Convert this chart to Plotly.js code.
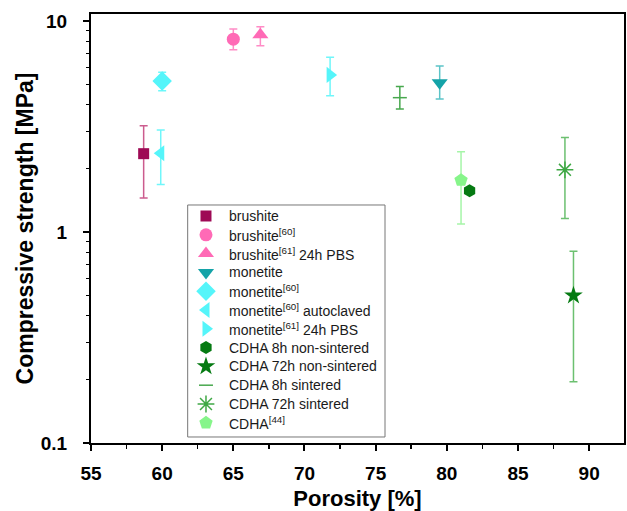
<!DOCTYPE html>
<html>
<head>
<meta charset="utf-8">
<script src="https://cdn.plot.ly/plotly-3.0.1.min.js"></script>
<style>html,body{margin:0;padding:0;background:#fff;}#chart{width:627px;height:511px;}</style>
</head>
<body>
<div id="chart"></div>
<script>
// Series names (legend order)
const seriesNames = [
  "brushite",
  "brushite<sup>[60]</sup>",
  "brushite<sup>[61]</sup> 24h PBS",
  "monetite",
  "monetite<sup>[60]</sup>",
  "monetite<sup>[60]</sup> autoclaved",
  "monetite<sup>[61]</sup> 24h PBS",
  "CDHA 8h non-sintered",
  "CDHA 72h non-sintered",
  "CDHA 8h sintered",
  "CDHA 72h sintered",
  "CDHA<sup>[44]</sup>"
];
// Porosity [%]
const porosity = [58.7, 65.0, 66.9, 79.5, 60.0, 59.9, 71.8, 81.6, 88.9, 76.7, 88.3, 81.0];
// Compressive strength [MPa]
const strength = [2.35, 8.2, 8.6, 5.1, 5.2, 2.36, 5.55, 1.57, 0.50, 4.33, 1.97, 1.76];
// Error bar upper / lower limits [MPa]
const errUpper = [3.19, 9.15, 9.4, 6.12, 5.72, 3.04, 6.73, null, 0.81, 4.89, 2.80, 2.40];
const errLower = [1.45, 7.3, 7.64, 4.27, 4.67, 1.68, 4.42, null, 0.195, 3.83, 1.16, 1.09];

const yTickVals = [0.1, 1, 10];
const yTickText = ["0.1", "1", "10"];
const xTickVals = [55, 60, 65, 70, 75, 80, 85, 90];

const styles = [
  {symbol: "square", color: "#9E0A55", size: 11, ecolor: "#CC5C8E"},
  {symbol: "circle", color: "#FF6AB6", size: 13, ecolor: "#FF8CC6"},
  {symbol: "triangle-up", color: "#FF6AB6", size: 14, ecolor: "#FF8CC6"},
  {symbol: "triangle-down", color: "#14A3A8", size: 14, ecolor: "#5CC4C8"},
  {symbol: "diamond", color: "#55F5FA", size: 15, ecolor: "#6EF8FA"},
  {symbol: "triangle-left", color: "#55F5FA", size: 14, ecolor: "#70F6FA"},
  {symbol: "triangle-right", color: "#55F5FA", size: 14, ecolor: "#70F6FA"},
  {symbol: "hexagon", color: "#057A12", size: 13, ecolor: "#057A12"},
  {symbol: "star", color: "#057A12", size: 14, ecolor: "#6CC070"},
  {symbol: "line-ew", color: "#48A84E", size: 10, ecolor: "#48A84E", line: true},
  {symbol: "asterisk-open", color: "#3FA845", size: 14, ecolor: "#6CC070", line: true},
  {symbol: "pentagon", color: "#86F58A", size: 14, ecolor: "#A6F5A8"}
];

function markerOf(s) {
  return {symbol: s.symbol, color: s.color, size: s.size,
          line: s.line ? {color: s.color, width: 1.5} : {width: 0}};
}

const traces = seriesNames.map((name, i) => {
  const s = styles[i];
  const t = {
    type: "scatter", mode: "markers", name: name,
    x: [porosity[i]], y: [strength[i]],
    marker: markerOf(s), showlegend: false, hoverinfo: "skip"
  };
  if (errUpper[i] !== null) {
    t.error_y = {type: "data", symmetric: false,
      array: [errUpper[i] - strength[i]], arrayminus: [strength[i] - errLower[i]],
      color: s.ecolor, thickness: 1.5, width: 4};
  }
  return t;
});

// Legend drawn in its own small overlay axes (x2/y2), units: pixels inside the box
const legRowTop = 11, legRowStep = 18.8, legMarkX = 18.3, legTextX = 39;
const annotations = [];
seriesNames.forEach((name, i) => {
  const ry = legRowTop + legRowStep * i;
  traces.push({
    type: "scatter", mode: "markers", x: [legMarkX], y: [ry],
    xaxis: "x2", yaxis: "y2", marker: markerOf(styles[i]),
    showlegend: false, hoverinfo: "skip", cliponaxis: false
  });
  annotations.push({
    xref: "x2", yref: "y2", x: legTextX, y: ry, text: name,
    showarrow: false, xanchor: "left", yanchor: "middle",
    font: {size: 14, color: "#1a1a1a", family: "Liberation Sans, Arial, sans-serif"}
  });
});

const fontFam = "Liberation Sans, Arial, sans-serif";
const layout = {
  width: 627, height: 511,
  margin: {l: 91, r: 3, t: 14, b: 68},
  paper_bgcolor: "#ffffff",
  plot_bgcolor: "rgba(0,0,0,0)",
  showlegend: false,
  font: {family: fontFam, color: "#000"},
  xaxis: {
    domain: [0, 1],
    range: [55, 92.45],
    tickvals: xTickVals,
    ticks: "outside", ticklen: 6, tickwidth: 2, tickcolor: "#000",
    ticklabelstandoff: 6,
    minor: {dtick: 2.5, ticks: "outside", ticklen: 4, tickwidth: 1.5, tickcolor: "#000", showgrid: false},
    showline: true, linewidth: 2, linecolor: "#000", mirror: true,
    showgrid: false, zeroline: false,
    tickfont: {size: 19, weight: "bold", family: fontFam},
    title: {text: "Porosity [%]", font: {size: 22, weight: "bold", family: fontFam}, standoff: 8}
  },
  yaxis: {
    domain: [0, 1],
    type: "log",
    range: [-1, 1.033],
    tickvals: yTickVals, ticktext: yTickText,
    ticks: "outside", ticklen: 6, tickwidth: 2, tickcolor: "#000",
    ticklabelstandoff: 12,
    minor: {tickvals: [0.2,0.3,0.4,0.5,0.6,0.7,0.8,0.9,2,3,4,5,6,7,8,9], ticks: "outside", ticklen: 3, tickwidth: 1, tickcolor: "#000", showgrid: false},
    showline: true, linewidth: 2, linecolor: "#000", mirror: true,
    showgrid: false, zeroline: false,
    tickfont: {size: 19, weight: "bold", family: fontFam},
    title: {text: "Compressive strength [MPa]", font: {size: 23, weight: "bold", family: fontFam}, standoff: 1}
  },
  xaxis2: {domain: [0.1814, 0.5516], range: [0, 197.3], anchor: "y2", visible: false, fixedrange: true},
  yaxis2: {domain: [0.01399, 0.5548], range: [232, 0], anchor: "x2", visible: false, fixedrange: true},
  shapes: [{type: "rect", xref: "paper", yref: "paper", x0: 0.1814, x1: 0.5516, y0: 0.01399, y1: 0.5548,
            line: {color: "#777", width: 1}, fillcolor: "rgba(0,0,0,0)", layer: "below"}],
  annotations: annotations
};

Plotly.newPlot("chart", traces, layout, {displayModeBar: false, staticPlot: true});
</script>
</body>
</html>
